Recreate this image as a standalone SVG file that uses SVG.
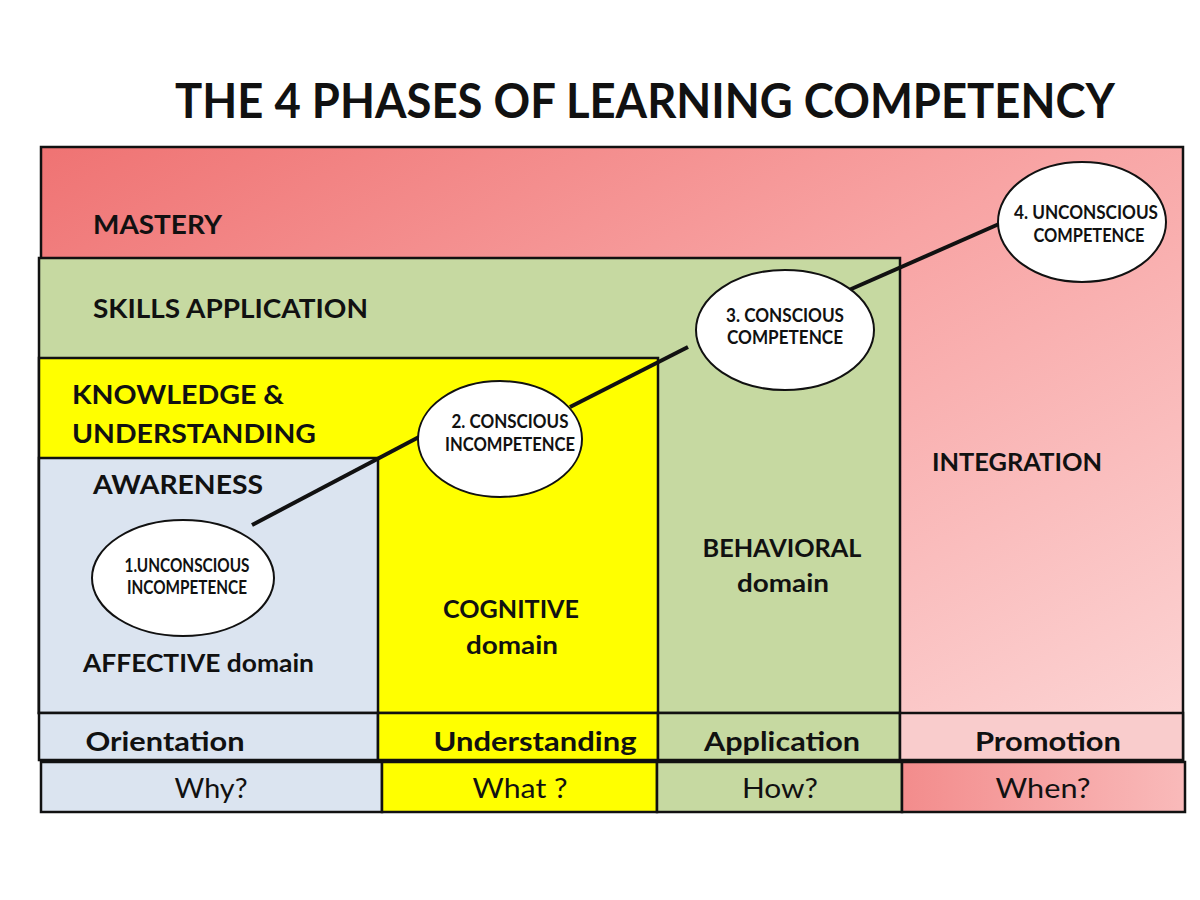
<svg xmlns="http://www.w3.org/2000/svg" width="1200" height="900" viewBox="0 0 1200 900">
<defs>
<linearGradient id="redGrad" x1="0" y1="0" x2="1" y2="1">
<stop offset="0" stop-color="#ef7373"/>
<stop offset="0.45" stop-color="#f8a4a4"/>
<stop offset="1" stop-color="#fcd6d6"/>
</linearGradient>
<linearGradient id="whenGrad" x1="0" y1="0" x2="1" y2="0">
<stop offset="0" stop-color="#f38c8c"/>
<stop offset="1" stop-color="#f9baba"/>
</linearGradient>
<style>
.box{stroke:#111;stroke-width:2.5}
.lbl{font-family:Lato,"Open Sans","Liberation Sans",sans-serif;font-weight:700;fill:#111}
.reg{font-family:Lato,"Open Sans","Liberation Sans",sans-serif;font-weight:400;fill:#111}
.big{font-size:27px}
.circ{fill:#fff;stroke:#111;stroke-width:2}
.ctext{font-family:Lato,"Open Sans","Liberation Sans",sans-serif;font-weight:700;font-size:18px;fill:#111;text-anchor:middle}
.conn{stroke:#111;stroke-width:4;fill:none}
</style>
</defs>
<rect width="1200" height="900" fill="#fff"/>
<text class="lbl" x="645" y="118" font-size="48" text-anchor="middle" textLength="940" lengthAdjust="spacingAndGlyphs">THE 4 PHASES OF LEARNING COMPETENCY</text>

<g id="mastery">
<rect class="box" x="41" y="147" width="1142" height="613" fill="url(#redGrad)" stroke-width="3"/>
<text class="lbl big" x="93" y="234" textLength="129" lengthAdjust="spacingAndGlyphs">MASTERY</text>
</g>
<g id="skills">
<rect class="box" x="39" y="258" width="861" height="455" fill="#c6d9a1"/>
<text class="lbl big" x="93" y="318" textLength="275" lengthAdjust="spacingAndGlyphs">SKILLS APPLICATION</text>
</g>
<g id="knowledge">
<rect class="box" x="39" y="358" width="619" height="355" fill="#ffff00"/>
<text class="lbl big" x="72" y="404" textLength="212" lengthAdjust="spacingAndGlyphs">KNOWLEDGE &amp;</text>
<text class="lbl big" x="72" y="443" textLength="244" lengthAdjust="spacingAndGlyphs">UNDERSTANDING</text>
</g>
<g id="awareness">
<rect class="box" x="39" y="458" width="339" height="255" fill="#dbe4f0"/>
<text class="lbl big" x="93" y="494" textLength="170" lengthAdjust="spacingAndGlyphs">AWARENESS</text>
<text class="lbl" x="83" y="672" font-size="25" textLength="231" lengthAdjust="spacingAndGlyphs">AFFECTIVE domain</text>
</g>
<g id="cognitive">
<text class="lbl" x="511" y="618" font-size="25" text-anchor="middle" textLength="136" lengthAdjust="spacingAndGlyphs">COGNITIVE</text>
<text class="lbl" x="512" y="654" font-size="25" text-anchor="middle" textLength="92" lengthAdjust="spacingAndGlyphs">domain</text>
</g>
<g id="behavioral">
<text class="lbl" x="782" y="557" font-size="25" text-anchor="middle" textLength="159" lengthAdjust="spacingAndGlyphs">BEHAVIORAL</text>
<text class="lbl" x="783" y="592" font-size="25" text-anchor="middle" textLength="92" lengthAdjust="spacingAndGlyphs">domain</text>
</g>
<g id="integration">
<text class="lbl" x="932" y="471" font-size="25" textLength="170" lengthAdjust="spacingAndGlyphs">INTEGRATION</text>
</g>

<g id="connectors">
<line class="conn" x1="252" y1="525" x2="419" y2="437"/>
<line class="conn" x1="570" y1="407" x2="688" y2="347"/>
<line class="conn" x1="849" y1="290" x2="999" y2="224"/>
</g>

<g id="phase1">
<ellipse class="circ" cx="183" cy="578" rx="91" ry="58"/>
<text class="ctext" x="187" y="572" textLength="125" lengthAdjust="spacingAndGlyphs">1.UNCONSCIOUS</text>
<text class="ctext" x="187" y="594" textLength="120" lengthAdjust="spacingAndGlyphs">INCOMPETENCE</text>
</g>
<g id="phase2">
<ellipse class="circ" cx="500" cy="439" rx="82" ry="58"/>
<text class="ctext" x="510" y="428" textLength="117" lengthAdjust="spacingAndGlyphs">2. CONSCIOUS</text>
<text class="ctext" x="510" y="451" textLength="130" lengthAdjust="spacingAndGlyphs">INCOMPETENCE</text>
</g>
<g id="phase3">
<ellipse class="circ" cx="785" cy="330" rx="89" ry="60"/>
<text class="ctext" x="785" y="322" textLength="118" lengthAdjust="spacingAndGlyphs">3. CONSCIOUS</text>
<text class="ctext" x="785" y="344" textLength="116" lengthAdjust="spacingAndGlyphs">COMPETENCE</text>
</g>
<g id="phase4">
<ellipse class="circ" cx="1082" cy="222" rx="84" ry="60"/>
<text class="ctext" x="1086" y="219" textLength="144" lengthAdjust="spacingAndGlyphs">4. UNCONSCIOUS</text>
<text class="ctext" x="1089" y="242" textLength="111" lengthAdjust="spacingAndGlyphs">COMPETENCE</text>
</g>

<g id="row-phases">
<rect class="box" x="39" y="713" width="339" height="47" fill="#dbe4f0"/>
<rect class="box" x="378" y="713" width="280" height="47" fill="#ffff00"/>
<rect class="box" x="658" y="713" width="242" height="47" fill="#c6d9a1"/>
<rect class="box" x="900" y="713" width="283" height="47" fill="#f9cccc"/>
<text class="lbl" x="165" y="751" font-size="26" text-anchor="middle" textLength="159" lengthAdjust="spacingAndGlyphs">Orientation</text>
<text class="lbl" x="535" y="751" font-size="26" text-anchor="middle" textLength="203" lengthAdjust="spacingAndGlyphs">Understanding</text>
<text class="lbl" x="782" y="751" font-size="26" text-anchor="middle" textLength="156" lengthAdjust="spacingAndGlyphs">Application</text>
<text class="lbl" x="1048" y="751" font-size="26" text-anchor="middle" textLength="146" lengthAdjust="spacingAndGlyphs">Promotion</text>
</g>
<g id="row-questions">
<rect class="box" x="41" y="762" width="341" height="50" fill="#dbe4f0"/>
<rect class="box" x="382" y="762" width="275" height="50" fill="#ffff00"/>
<rect class="box" x="657" y="762" width="245" height="50" fill="#c6d9a1"/>
<rect class="box" x="902" y="762" width="283" height="50" fill="url(#whenGrad)"/>
<text class="reg" x="211" y="798" font-size="26" text-anchor="middle" textLength="73" lengthAdjust="spacingAndGlyphs">Why?</text>
<text class="reg" x="520" y="798" font-size="26" text-anchor="middle" textLength="95" lengthAdjust="spacingAndGlyphs">What ?</text>
<text class="reg" x="780" y="798" font-size="26" text-anchor="middle" textLength="76" lengthAdjust="spacingAndGlyphs">How?</text>
<text class="reg" x="1043" y="798" font-size="26" text-anchor="middle" textLength="95" lengthAdjust="spacingAndGlyphs">When?</text>
</g>
</svg>
